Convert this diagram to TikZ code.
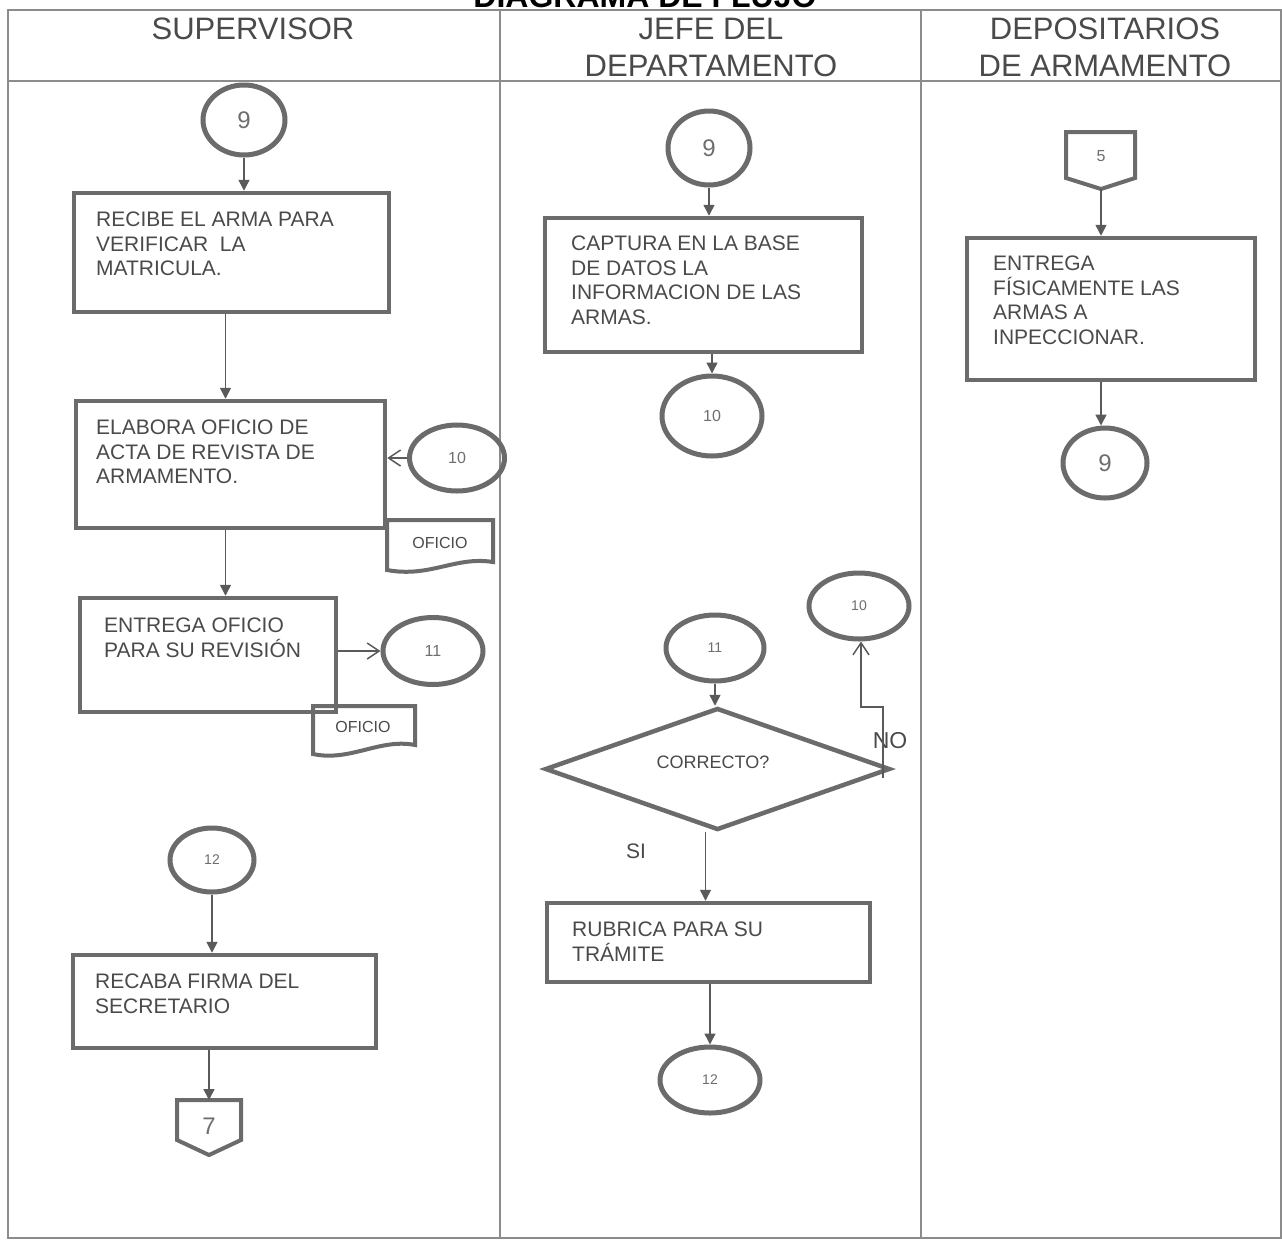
\documentclass[tikz,border=0pt]{standalone}
\usepackage{fontspec}
\setmainfont{Liberation Sans}
\usetikzlibrary{arrows.meta,shapes.geometric}
\definecolor{bordc}{HTML}{6B6B6B}
\definecolor{txtc}{HTML}{4A4A4A}
\definecolor{numc}{HTML}{6E6E6E}
\definecolor{conc}{HTML}{5A5A5A}
\definecolor{framec}{HTML}{8C8C8C}
\tikzset{
  proc/.style={draw=bordc, line width=4.5pt, inner sep=0pt},
  ell/.style={ellipse, draw=bordc, line width=5pt, inner sep=0pt, text=numc},
  offp/.style={draw=bordc, line width=4pt, line join=miter},
  docs/.style={draw=bordc, line width=4pt},
  txt/.style={anchor=north west, inner sep=0pt, align=left, text=txtc, font=\fontsize{21}{24.5}\selectfont},
  hdr/.style={anchor=north, inner sep=0pt, align=center, text=txtc, font=\fontsize{31}{37}\selectfont},
  big/.style={font=\fontsize{24}{24}\selectfont},
  mid/.style={font=\fontsize{16}{16}\selectfont},
  sml/.style={font=\fontsize{14}{14}\selectfont},
  lbl/.style={inner sep=0pt, text=txtc},
  arr/.style={draw=conc, line width=1.5pt, -{Triangle[length=11pt,width=11pt]}},
  oarr/.style={draw=conc, line width=1.5pt, -{Straight Barb[length=12pt,width=16pt]}},
  framel/.style={draw=framec, line width=1.5pt}
}
\begin{document}
\begin{tikzpicture}[x=1pt,y=-1pt]
\useasboundingbox (0,0) rectangle (1282,1243);
\clip (0,0) rectangle (1282,1243);
\fill[white] (0,0) rectangle (1282,1243);

% title (cut at top)
\node[anchor=base, inner sep=0pt, font=\bfseries\fontsize{32}{32}\selectfont] (title) at (645,7) {DIAGRAMA DE FLUJO};

% frame
\draw[framel] (8,10) rectangle (1281,1238);
\draw[framel] (8,81) -- (1281,81);
\draw[framel] (500,10) -- (500,1238);
\draw[framel] (921,10) -- (921,1238);

% headers
\node[hdr] (h1) at (253,18) {SUPERVISOR};
\node[hdr] (h2) at (711,18) {JEFE DEL\\DEPARTAMENTO};
\node[hdr] (h3) at (1105,18) {DEPOSITARIOS\\DE ARMAMENTO};

% ---------- lane 1 ----------
\node[ell, big, minimum width=82pt, minimum height=70pt] (e9a) at (244,120) {9};
\node[proc, minimum width=315pt, minimum height=119pt] (b1) at (231.5,252.5) {};
\node[txt] (t1) at (96,212) {RECIBE EL ARMA PARA\\VERIFICAR\ \ LA\\MATRICULA.};

\node[proc, minimum width=309pt, minimum height=127pt] (b2) at (230.5,464.5) {};
\node[txt] (t2) at (96,420) {ELABORA OFICIO DE\\ACTA DE REVISTA DE\\ARMAMENTO.};
\node[ell, mid, minimum width=95pt, minimum height=66pt] (e10a) at (457,458) {10};
\draw[docs] (387,520) -- (493,520) -- (493,562) .. controls (455,556) and (430,578) .. (387,570) -- cycle;
\node[lbl, mid] (d1) at (440,543) {OFICIO};

\node[proc, minimum width=256pt, minimum height=114pt] (b3) at (208,655) {};
\node[txt] (t3) at (104,618) {ENTREGA OFICIO\\PARA SU REVISIÓN};
\node[ell, mid, minimum width=100pt, minimum height=67pt] (e11a) at (433,651) {11};
\draw[docs] (313,706) -- (415,706) -- (415,745) .. controls (380,738) and (350,762) .. (313,754) -- cycle;
\node[lbl, mid] (d2) at (363,727) {OFICIO};

\node[ell, sml, minimum width=84pt, minimum height=64pt] (e12a) at (212,860) {12};
\node[proc, minimum width=303pt, minimum height=93pt] (b4) at (224.5,1001.5) {};
\node[txt] (t4) at (95,974) {RECABA FIRMA DEL\\SECRETARIO};
\draw[offp] (177,1100) -- (241,1100) -- (241,1140) -- (209,1155) -- (177,1140) -- cycle;
\coordinate (o7top) at (209,1100);
\node[lbl, big, text=numc] (n7) at (209,1126) {7};

\draw[arr] (e9a.south) -- (e9a.south |- b1.north);
\draw[arr] ([xshift=-6pt]b1.south) -- ([xshift=-6pt]b1.south |- b2.north);
\draw[oarr] (e10a.west) -- (e10a.west -| b2.east);
\draw[arr] ([xshift=-5pt]b2.south) -- ([xshift=-5pt]b2.south |- b3.north);
\draw[oarr] (b3.east |- e11a.west) -- (e11a.west);
\draw[arr] (e12a.south) -- (e12a.south |- b4.north);
\draw[arr] (b4.south -| o7top) -- (o7top);

% ---------- lane 2 ----------
\node[ell, big, minimum width=82pt, minimum height=74pt] (e9b) at (709,148) {9};
\node[proc, minimum width=317pt, minimum height=134pt] (b5) at (703.5,285) {};
\node[txt] (t5) at (571,236) {CAPTURA EN LA BASE\\DE DATOS LA\\INFORMACION DE LAS\\ARMAS.};
\node[ell, mid, minimum width=100pt, minimum height=80pt] (e10b) at (712,416) {10};

\node[ell, sml, minimum width=98pt, minimum height=66pt] (e11b) at (715,648) {11};
\node[diamond, draw=bordc, line width=4.5pt, inner sep=0pt, minimum width=345pt, minimum height=122pt] (d) at (717.5,769) {};
\node[lbl, font=\fontsize{18}{18}\selectfont] (dt) at (713,762) {CORRECTO?};
\node[ell, sml, minimum width=100pt, minimum height=66pt] (e10c) at (859,606) {10};
\node[lbl, font=\fontsize{23}{23}\selectfont] (no) at (890,741) {NO};
\node[lbl, font=\fontsize{21}{21}\selectfont] (si) at (636,851) {SI};
\coordinate (nostart) at (883,778);
\coordinate (nomid) at (861,707);

\node[proc, minimum width=323pt, minimum height=79pt] (b6) at (708.5,942.5) {};
\node[txt] (t6) at (572,922) {RUBRICA PARA SU\\TRÁMITE};
\node[ell, sml, minimum width=100pt, minimum height=66pt] (e12b) at (710,1080) {12};

\draw[arr] (e9b.south) -- (e9b.south |- b5.north);
\draw[arr] (b5.south -| e10b.north) -- (e10b.north);
\draw[arr] (e11b.south) -- (e11b.south |- d.north);
\draw[oarr] (nostart) |- (nomid) -- (nomid |- e10c.south);
\draw[arr] ([xshift=-12pt]d.south) -- ([xshift=-12pt]d.south |- b6.north);
\draw[arr] (b6.south -| e12b.north) -- (e12b.north);

% ---------- lane 3 ----------
\draw[offp] (1066,132) -- (1135,132) -- (1135,178) -- (1101,189) -- (1066,178) -- cycle;
\coordinate (o5tip) at (1101,189);
\node[lbl, mid, text=numc] (n5) at (1101,156) {5};
\node[proc, minimum width=288pt, minimum height=142pt] (b7) at (1111,309) {};
\node[txt] (t7) at (993,256) {ENTREGA\\FÍSICAMENTE LAS\\ARMAS A\\INPECCIONAR.};
\node[ell, big, minimum width=84pt, minimum height=70pt] (e9c) at (1105,463) {9};

\draw[arr] (o5tip) -- (o5tip |- b7.north);
\draw[arr] (b7.south -| o5tip) -- (o5tip |- e9c.north);
\end{tikzpicture}
\end{document}
